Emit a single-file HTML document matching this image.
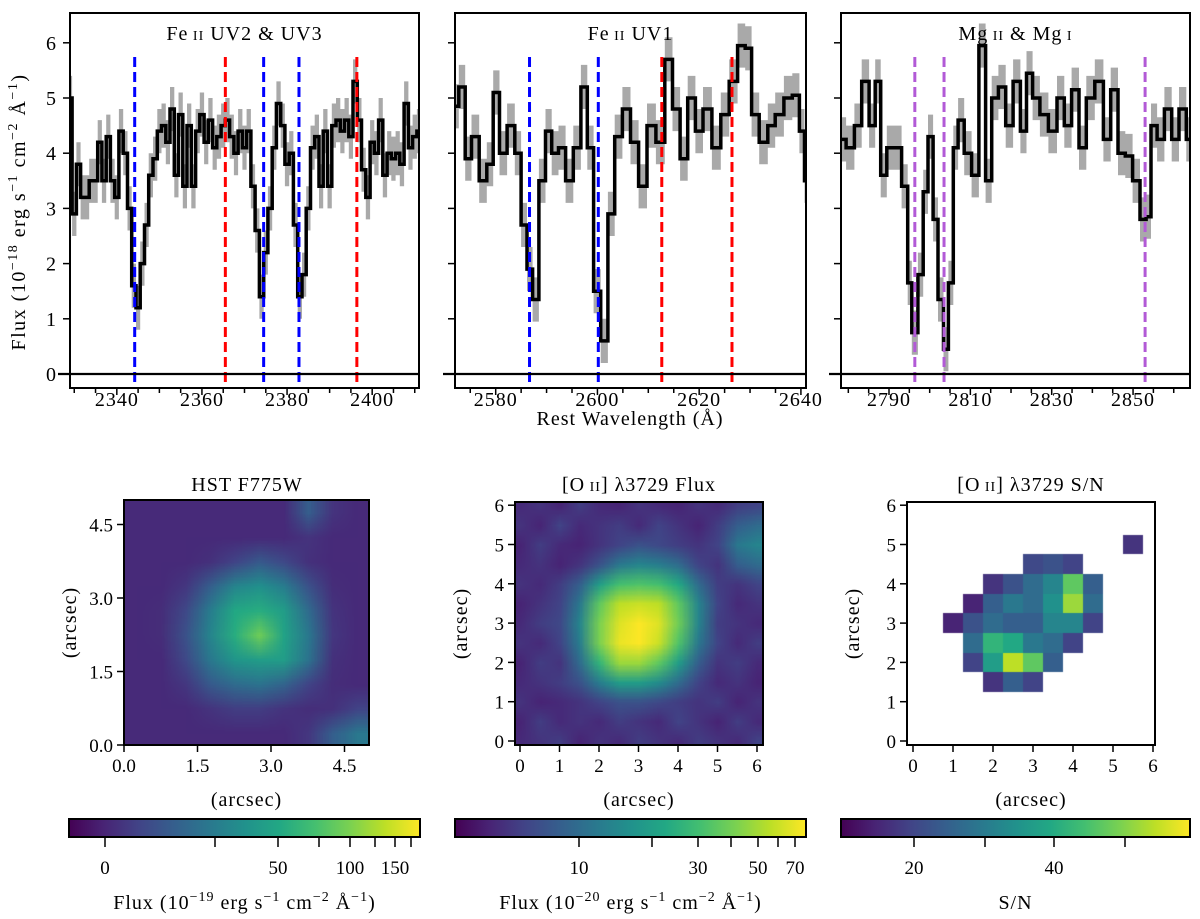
<!DOCTYPE html>
<html><head><meta charset="utf-8">
<style>
body{margin:0;background:#fff;}
#wrap{position:relative;width:1200px;height:919px;overflow:hidden;font-family:"Liberation Serif",serif;}
svg{position:absolute;left:0;top:0;}
canvas{position:absolute;}
text{font-family:"Liberation Serif",serif;fill:#000;}
</style></head>
<body>
<div id="wrap">
<canvas id="c1" style="left:124px;top:500px" width="245" height="245"></canvas>
<canvas id="c2" style="left:515px;top:502px" width="248" height="243"></canvas>
<canvas id="c3" style="left:907px;top:502px" width="248" height="243"></canvas>
<svg id="svg" width="1200" height="919"></svg>
</div>
<script>
// ---------- data ----------
const p1Wl = [2329,2330,2331,2332,2333,2334,2335,2336,2337,2338,2339,2340,2341,2342,2343,2344,2345,2346,2347,2348,2349,2350,2351,2352,2353,2354,2355,2356,2357,2358,2359,2360,2361,2362,2363,2364,2365,2366,2367,2368,2369,2370,2371,2372,2373,2374,2375,2376,2377,2378,2379,2380,2381,2382,2383,2384,2385,2386,2387,2388,2389,2390,2391,2392,2393,2394,2395,2396,2397,2398,2399,2400,2401,2402,2403,2404,2405,2406,2407,2408,2409,2410,2411];
const p1Flux = [5.0,2.9,3.8,3.2,3.2,3.5,3.5,4.2,3.5,4.3,3.5,3.2,4.4,4.0,3.0,1.6,1.2,2.0,2.7,3.6,3.9,4.4,4.5,4.2,4.8,3.6,4.7,3.4,4.5,3.4,4.4,4.7,4.2,4.6,4.1,4.3,4.5,4.6,4.3,4.0,4.4,4.1,4.4,3.4,2.6,1.4,2.2,3.0,4.1,4.9,4.5,3.8,4.0,2.7,1.4,1.8,3.0,4.1,4.3,3.4,4.4,3.4,4.5,4.6,4.4,4.6,4.3,5.3,4.6,3.7,3.2,4.2,4.0,4.6,3.6,4.0,3.9,4.0,3.8,4.9,4.1,4.3,4.4];
const p2Wl = [2572,2573.5,2574.5,2576,2577.5,2579,2580,2581.5,2583,2584.5,2585.5,2586.8,2587.7,2589.3,2590.3,2591.7,2593,2594.5,2596,2597.5,2598.5,2600,2601.3,2602.8,2604,2605.8,2607.2,2609,2610.5,2612.5,2614,2615.5,2617,2618.5,2620,2621.5,2623.5,2625,2626.8,2628.3,2629.8,2630.8,2632.8,2634.2,2635.7,2637.6,2639,2640.4,2641];
const p2Flux = [4.85,5.2,3.9,4.3,3.5,3.8,5.1,4.0,4.5,4.0,2.7,1.9,1.35,3.5,4.4,4.0,4.1,3.5,4.1,5.2,4.1,1.5,0.6,2.9,4.3,4.8,4.2,3.4,4.5,4.2,5.7,4.8,3.9,5.0,4.4,4.8,4.1,4.7,5.3,5.95,5.9,4.7,4.2,4.5,4.7,5.0,5.05,4.4,3.5];
const p3Wl = [2778.3,2780.6,2782.4,2784.2,2786,2787.2,2788.7,2790.2,2792,2794.2,2795,2796.2,2798,2798.8,2800.4,2801.3,2802.8,2804,2805.2,2806.4,2807.6,2809.4,2811.2,2813,2814.5,2816,2817.8,2819.6,2821.4,2823.2,2824.4,2826.2,2828,2830.4,2832.2,2834,2835.8,2837.6,2839.4,2841.8,2843.6,2845.4,2847.2,2849,2850.8,2852.6,2853.8,2855,2856.8,2858.6,2860.4,2862.2,2864];
const p3Flux = [4.25,4.1,4.5,5.3,4.5,5.3,3.6,4.1,4.1,3.4,1.65,0.75,1.8,3.3,4.3,2.8,1.35,0.45,1.65,4.1,4.6,4.0,3.6,5.95,3.5,5.0,5.2,4.5,5.3,4.4,5.45,5.0,4.7,4.4,5.0,4.5,5.15,4.1,5.0,5.3,4.25,5.15,4.0,3.95,3.5,2.8,2.85,4.5,4.25,4.8,4.25,4.8,4.25];
const fluxErr = 0.4;
const p1Lines = [2344.2,2365.5,2374.5,2382.8,2396.4];
const p1LineColors = ['#0000ff','#ff0000','#0000ff','#0000ff','#ff0000'];
const p2Lines = [2586.65,2600.17,2612.65,2626.45];
const p2LineColors = ['#0000ff','#0000ff','#ff0000','#ff0000'];
const p3Lines = [2796.35,2803.53,2852.96];
const p3LineColors = ['#b25ad6','#b25ad6','#b25ad6'];
const p1Ticks = [2340,2360,2380,2400];
const p2Ticks = [2580,2600,2620,2640];
const p3Ticks = [2790,2810,2830,2850];
const yTicks = [0,1,2,3,4,5,6];

const hstGrid = [
[.12,.12,.12,.12,.12,.12,.12,.30,.15,.12],
[.12,.12,.12,.12,.12,.12,.12,.15,.12,.12],
[.12,.12,.12,.14,.20,.28,.22,.14,.12,.12],
[.12,.12,.16,.30,.45,.50,.42,.25,.13,.12],
[.12,.13,.22,.42,.60,.62,.55,.35,.15,.12],
[.12,.13,.25,.45,.62,.78,.58,.40,.16,.12],
[.12,.12,.22,.40,.52,.55,.55,.38,.14,.12],
[.12,.12,.16,.28,.35,.38,.32,.20,.13,.12],
[.12,.12,.12,.15,.18,.18,.15,.13,.14,.20],
[.12,.12,.12,.12,.12,.12,.12,.16,.30,.40]];
const oiiGrid = [
[.12,.15,.10,.18,.12,.10,.15,.12,.10,.15,.12,.18,.20],
[.15,.10,.20,.12,.15,.18,.12,.20,.15,.10,.18,.30,.35],
[.10,.18,.12,.10,.15,.20,.25,.22,.18,.15,.20,.40,.45],
[.12,.15,.10,.15,.25,.40,.45,.42,.35,.20,.15,.30,.35],
[.15,.12,.18,.30,.55,.70,.72,.70,.60,.35,.18,.15,.20],
[.10,.15,.20,.40,.75,.90,.92,.90,.75,.45,.20,.12,.15],
[.12,.18,.22,.45,.80,.95,1.0,.95,.78,.45,.18,.15,.12],
[.15,.12,.20,.42,.80,.97,1.0,.92,.72,.40,.20,.12,.18],
[.10,.18,.15,.35,.65,.85,.85,.75,.55,.30,.15,.18,.12],
[.12,.15,.18,.25,.42,.55,.55,.48,.35,.20,.12,.15,.10],
[.15,.10,.12,.15,.20,.25,.25,.22,.18,.15,.18,.10,.15],
[.10,.18,.12,.15,.12,.18,.15,.12,.20,.15,.10,.18,.12],
[.12,.15,.18,.10,.15,.12,.18,.15,.12,.18,.15,.12,.20]];
const N=null;
const snGrid = [
[N,N,N,N,N,N,N,N,N,N,N,N,N],
[N,N,N,N,N,N,N,N,N,N,N,N,N],
[N,N,N,N,N,N,N,N,N,N,N,.15,N],
[N,N,N,N,N,N,.22,.25,.2,N,N,N,N],
[N,N,N,N,.15,.25,.35,.45,.75,.3,N,N,N],
[N,N,N,.1,.3,.4,.35,.5,.85,.35,N,N,N],
[N,N,.1,.25,.35,.3,.3,.45,.45,.2,N,N,N],
[N,N,N,.35,.65,.6,.4,.35,.2,N,N,N,N],
[N,N,N,.2,.55,.9,.75,.3,N,N,N,N,N],
[N,N,N,N,.15,.3,.2,N,N,N,N,N,N],
[N,N,N,N,N,N,N,N,N,N,N,N,N],
[N,N,N,N,N,N,N,N,N,N,N,N,N],
[N,N,N,N,N,N,N,N,N,N,N,N,N]];
const cb1Ticks = [105,278,350,395], cb1Labels=['0','50','100','150'], cb1Minor=[215,319,375,411];
const cb2Ticks = [579,698,758,795], cb2Labels=['10','30','50','70'], cb2Minor=[652,731,778];
const cb3Ticks = [914,1054], cb3Labels=['20','40'], cb3Minor=[985,1125];

const NS='http://www.w3.org/2000/svg';
const svg=document.getElementById('svg');
function mk(tag,attrs,parent){const e=document.createElementNS(NS,tag);for(const k in attrs)e.setAttribute(k,attrs[k]);(parent||svg).appendChild(e);return e;}
const VIR=['#440154','#482475','#414487','#355f8d','#2a788e','#21918c','#22a884','#44bf70','#7ad151','#bddf26','#fde725'];
function hex(h){return [parseInt(h.substr(1,2),16),parseInt(h.substr(3,2),16),parseInt(h.substr(5,2),16)];}
function vir(t){t=Math.max(0,Math.min(1,t));const f=t*10,i=Math.min(9,Math.floor(f)),r=f-i;const a=hex(VIR[i]),b=hex(VIR[i+1]);return [0,1,2].map(k=>Math.round(a[k]+(b[k]-a[k])*r));}
const FS=20, SUP=14;
const sup=s=>'<tspan dy="-8" font-size="'+SUP+'">'+s+'</tspan>';
const unitLabel=e=>'Flux (10'+sup('−'+e)+'<tspan dy="8"> erg s</tspan>'+sup('−1')+'<tspan dy="8"> cm</tspan>'+sup('−2')+'<tspan dy="8"> Å</tspan>'+sup('−1')+'<tspan dy="8">)</tspan>';

const panels=[
 {name:'feii-uv2-uv3',x0:70,x1:419,w0:2329,w1:2411,wl:p1Wl,fl:p1Flux,lines:p1Lines,lc:p1LineColors,ticks:p1Ticks,labels:true,title:['Fe','II',' UV2 & UV3'],minorStart:2330},
 {name:'feii-uv1',x0:455,x1:806,w0:2572,w1:2641,wl:p2Wl,fl:p2Flux,lines:p2Lines,lc:p2LineColors,ticks:p2Ticks,labels:false,title:['Fe','II',' UV1'],minorStart:2575},
 {name:'mgii-mgi',x0:841,x1:1190,w0:2778.2,w1:2864,wl:p3Wl,fl:p3Flux,lines:p3Lines,lc:p3LineColors,ticks:p3Ticks,labels:false,title:['Mg','II',' & Mg','I'],minorStart:2780}
];
const yTop=13,yBot=388,y0=374,yPer=55.2;
const ys=v=>y0-v*yPer;
const defs=mk('defs',{});
panels.forEach((p,pi)=>{
  const xs=w=>p.x0+(w-p.w0)/(p.w1-p.w0)*(p.x1-p.x0);
  const cp=mk('clipPath',{id:'clip'+pi},defs);
  mk('rect',{x:p.x0,y:yTop,width:p.x1-p.x0,height:yBot-yTop},cp);
  const g=mk('g',{'clip-path':'url(#clip'+pi+')'});
  
  
  function stepPts(off){const pts=[];const n=p.wl.length;for(let i=0;i<n;i++){const a=i==0?p.wl[0]-(p.wl[1]-p.wl[0])/2:(p.wl[i-1]+p.wl[i])/2;const b=i==n-1?p.wl[n-1]+(p.wl[n-1]-p.wl[n-2])/2:(p.wl[i]+p.wl[i+1])/2;pts.push([xs(a),ys(p.fl[i]+off)],[xs(b),ys(p.fl[i]+off)]);}return pts;}
  const up=stepPts(fluxErr),lo=stepPts(-fluxErr).reverse();
  const band=mk('path',{d:'M'+up.concat(lo).map(q=>q[0].toFixed(1)+','+q[1].toFixed(1)).join('L')+'Z',fill:'#a9a9a9'},g);
  
  
  const ln=stepPts(0);
  const line=mk('path',{d:'M'+ln.map(q=>q[0].toFixed(1)+','+q[1].toFixed(1)).join('L'),fill:'none',stroke:'#000','stroke-width':3.5,'stroke-linejoin':'miter'},g);
  
  
  p.lines.forEach((w,i)=>{
    const v=mk('line',{x1:xs(w),x2:xs(w),y1:57,y2:yBot,stroke:p.lc[i],'stroke-width':3,'stroke-dasharray':'10,5'},g);
    
    
  });
  const z=mk('line',{x1:p.x0-12,x2:p.x1,y1:y0,y2:y0,stroke:'#000','stroke-width':2.2});
  
  
  const fr=mk('rect',{x:p.x0,y:yTop,width:p.x1-p.x0,height:yBot-yTop,fill:'none',stroke:'#000','stroke-width':2});
  
  
  yTicks.forEach(t=>{
    const tk=mk('line',{x1:p.x0-7,x2:p.x0,y1:ys(t),y2:ys(t),stroke:'#000','stroke-width':1.5});
    
    
    if(p.labels){const tl=mk('text',{x:p.x0-14,y:ys(t)+7,'text-anchor':'end','font-size':FS});tl.textContent=t;
      
      }
  });
  for(let w=p.minorStart;w<=p.w1;w+=5){const X=xs(w);if(X<p.x0||X>p.x1)continue;const mj=p.ticks.indexOf(w)>=0;
    const tk=mk('line',{x1:X,x2:X,y1:yBot,y2:yBot+(mj?7:5),stroke:'#000','stroke-width':1.5});
    
    }
  p.ticks.forEach(t=>{const tl=mk('text',{x:xs(t),y:406,'text-anchor':'middle','font-size':FS,'letter-spacing':1});tl.textContent=t;
    
    });
  const tt=mk('text',{x:(p.x0+p.x1)/2,y:40,'text-anchor':'middle','font-size':FS,'letter-spacing':1});
  
  
  p.title.forEach((s,i)=>{const ts=mk('tspan',{'font-size':i%2==1?14:FS},tt);ts.textContent=(i%2==1?' ':'')+s;});
});
const xl=mk('text',{x:630,y:425,'text-anchor':'middle','font-size':FS,'letter-spacing':1});xl.textContent='Rest Wavelength (Å)';


const yl=mk('text',{x:0,y:0,'text-anchor':'middle','font-size':FS,'letter-spacing':1.5,transform:'translate(25,212) rotate(-90)'});


yl.innerHTML=unitLabel('18');

function drawGrid(id,grid,smooth,ax){
  const c=document.getElementById(id),ctx=c.getContext('2d');
  const R=grid.length,C=grid[0].length;
  const off=document.createElement('canvas');off.width=C;off.height=R;const o=off.getContext('2d');
  const im=o.createImageData(C,R);
  for(let r=0;r<R;r++)for(let q=0;q<C;q++){const v=grid[r][q];const i=(r*C+q)*4;if(v===null){im.data[i+3]=0;continue;}const col=vir(v);im.data[i]=col[0];im.data[i+1]=col[1];im.data[i+2]=col[2];im.data[i+3]=255;}
  o.putImageData(im,0,0);
  ctx.imageSmoothingEnabled=smooth;
  ctx.drawImage(off,ax.left,ax.top,ax.w,ax.h);
}
drawGrid('c1',hstGrid,true,{left:0,top:0,w:245,h:245});
drawGrid('c2',oiiGrid,true,{left:5-0.25*39.5,top:239-6.25*39.3,w:6.5*39.5,h:6.5*39.3});
drawGrid('c3',snGrid,false,{left:6-0.25*40,top:239-6.25*39.3,w:6.5*40,h:6.5*39.3});

const imgPanels=[
 {name:'hst',x0:124,x1:369,yt:500,yb:745,ox:124,oy:745,sx:49,sy:49,ticks:[0,1.5,3,4.5],fmt:t=>t.toFixed(1),title:'HST F775W',tx:247},
 {name:'oii-flux',x0:515,x1:763,yt:502,yb:745,ox:520,oy:741,sx:39.5,sy:39.3,ticks:[0,1,2,3,4,5,6],fmt:t=>t,title:'[O<tspan font-size="14"> II</tspan>] λ3729 Flux',tx:639},
 {name:'oii-sn',x0:907,x1:1155,yt:502,yb:745,ox:913,oy:741,sx:40,sy:39.3,ticks:[0,1,2,3,4,5,6],fmt:t=>t,title:'[O<tspan font-size="14"> II</tspan>] λ3729 S/N',tx:1031}
];
imgPanels.forEach(p=>{
  const fr=mk('rect',{x:p.x0,y:p.yt,width:p.x1-p.x0,height:p.yb-p.yt,fill:'none',stroke:'#000','stroke-width':2});
  
  
  p.ticks.forEach(t=>{
    const X=p.ox+t*p.sx,Y=p.oy-t*p.sy;
    const a=mk('line',{x1:X,x2:X,y1:p.yb,y2:p.yb+7,stroke:'#000','stroke-width':1.5});
    
    
    const b=mk('line',{x1:p.x0-7,x2:p.x0,y1:Y,y2:Y,stroke:'#000','stroke-width':1.5});
    
    
    const lx=mk('text',{x:X,y:p.yb+27,'text-anchor':'middle','font-size':19});lx.textContent=p.fmt(t);
    
    
    const ly=mk('text',{x:p.x0-11,y:Y+7,'text-anchor':'end','font-size':19});ly.textContent=p.fmt(t);
    
    
  });
  const xt=mk('text',{x:(p.x0+p.x1)/2,y:806,'text-anchor':'middle','font-size':FS,'letter-spacing':1});xt.textContent='(arcsec)';
  
  
  const yt=mk('text',{x:0,y:0,'text-anchor':'middle','font-size':FS,'letter-spacing':1,transform:'translate('+(p.x0-48)+','+((p.yt+p.yb)/2)+') rotate(-90)'});yt.textContent='(arcsec)';
  
  
  const tt=mk('text',{x:p.tx,y:491,'text-anchor':'middle','font-size':FS,'letter-spacing':1});tt.innerHTML=p.title;
  
  
});

const grad=mk('linearGradient',{id:'vir',x1:0,x2:1,y1:0,y2:0},defs);
VIR.forEach((c,i)=>mk('stop',{offset:i/10,'stop-color':c},grad));
const cbs=[
 {name:'hst-colorbar',x0:69,x1:420,ticks:cb1Ticks,labels:cb1Labels,minor:cb1Minor,label:unitLabel('19')},
 {name:'oii-flux-colorbar',x0:455,x1:806,ticks:cb2Ticks,labels:cb2Labels,minor:cb2Minor,label:unitLabel('20')},
 {name:'sn-colorbar',x0:841,x1:1190,ticks:cb3Ticks,labels:cb3Labels,minor:cb3Minor,label:'S/N'}
];
cbs.forEach(c=>{
  const r=mk('rect',{x:c.x0,y:819,width:c.x1-c.x0,height:18,fill:'url(#vir)',stroke:'#000','stroke-width':2});
  
  
  c.ticks.concat(c.minor).forEach(X=>{
    const t=mk('line',{x1:X,x2:X,y1:837,y2:847,stroke:'#000','stroke-width':1.5});
    
    
  });
  c.ticks.forEach((X,i)=>{
    const t=mk('text',{x:X,y:874,'text-anchor':'middle','font-size':19});t.textContent=c.labels[i];
    
    
  });
  const l=mk('text',{x:(c.x0+c.x1)/2,y:909,'text-anchor':'middle','font-size':FS,'letter-spacing':1});l.innerHTML=c.label;
  
  
});
</script>
</body></html>
